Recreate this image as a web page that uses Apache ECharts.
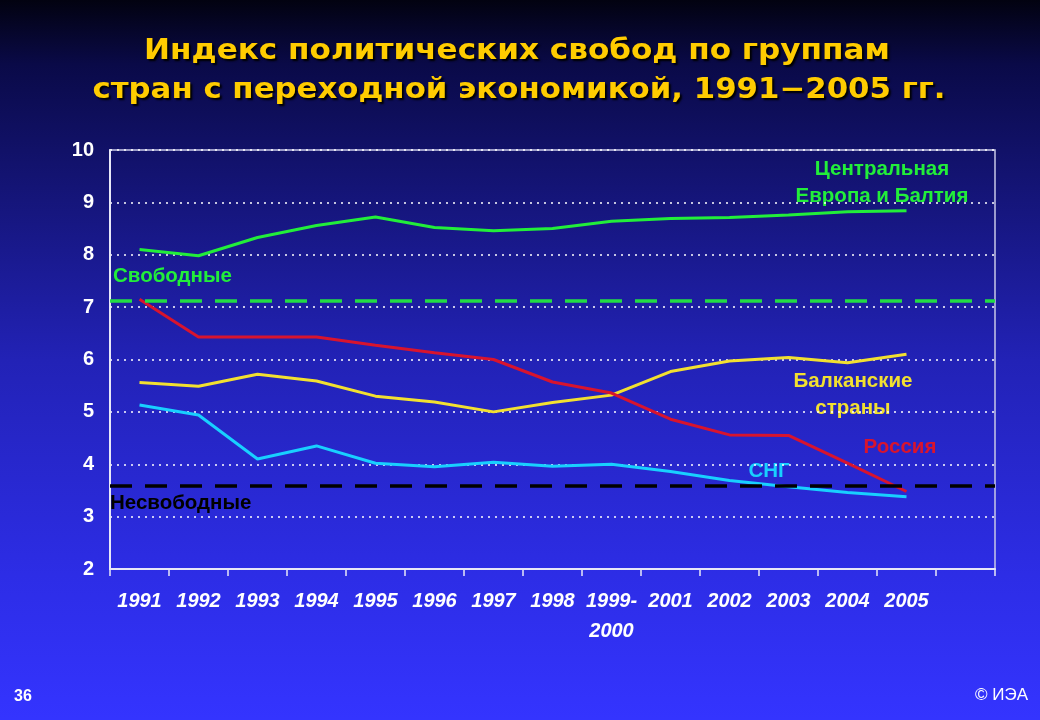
<!DOCTYPE html>
<html>
<head>
<meta charset="utf-8">
<script src="https://cdn.jsdelivr.net/npm/echarts@6/dist/echarts.min.js"></script>
<style>html,body{margin:0;padding:0;background:#000;}#c{width:1040px;height:720px;}</style>
</head>
<body>
<div id="c"></div>
<script>
const categories = ['1991','1992','1993','1994','1995','1996','1997','1998','1999-\n2000','2001','2002','2003','2004','2005',''];
const centralEurope = [8.10,7.98,8.33,8.56,8.72,8.52,8.46,8.50,8.64,8.69,8.71,8.76,8.82,8.84];
const russia = [7.15,6.43,6.43,6.43,6.27,6.13,6.00,5.57,5.36,4.86,4.56,4.55,4.02,3.48];
const balkans = [5.56,5.49,5.72,5.59,5.30,5.19,5.00,5.18,5.32,5.77,5.97,6.04,5.94,6.10];
const cis = [5.13,4.94,4.10,4.35,4.02,3.95,4.04,3.96,4.00,3.86,3.69,3.57,3.46,3.38];
const freeLevel = 7.13;
const notFreeLevel = 3.58;
const yTicks = [2,3,4,5,6,7,8,9,10];
const titleLines = ['Индекс политических свобод по группам', 'стран с переходной экономикой, 1991−2005 гг.'];

const chart = echarts.init(document.getElementById('c'));
const lineStyle = (c) => ({color: c, width: 3});
const labelFont = 'Liberation Sans, Arial, sans-serif';
const titleStyle = (t) => ({text:t, fill:'#ffcc00', font:'bold 28px DejaVu Sans, sans-serif', textAlign:'center', textVerticalAlign:'middle',
  textShadowColor:'#000', textShadowBlur:2, textShadowOffsetX:2, textShadowOffsetY:2});
chart.setOption({
  animation: false,
  backgroundColor: {type:'linear', x:0, y:0, x2:0, y2:1, colorStops:[
    {offset:0, color:'#020210'},
    {offset:0.09, color:'#0a0a48'},
    {offset:0.5, color:'#2222b6'},
    {offset:0.8, color:'#2d2de6'},
    {offset:1, color:'#3434ff'}
  ]},
  grid: {left:110, right:45, top:150, bottom:151, show:true, borderColor:'#c8c8e8', borderWidth:1.5},
  xAxis: {
    type:'category', data: categories, boundaryGap: true,
    axisLine: {lineStyle:{color:'#e8e8f8', width:2}},
    axisTick: {show:true, interval:0, length:7, inside:false, lineStyle:{color:'#e8e8f8', width:1.5}},
    axisLabel: {interval:0, color:'#ffffff', fontSize:20, fontWeight:'bold', fontStyle:'italic',
      fontFamily:labelFont, margin:17, lineHeight:30},
    splitLine: {show:false}
  },
  yAxis: {
    type:'value', min:2, max:10, interval:1,
    axisLine: {show:true, lineStyle:{color:'#e8e8f8', width:2}},
    axisTick: {show:true, length:0},
    axisLabel: {color:'#ffffff', fontSize:20, fontWeight:'bold', fontFamily:labelFont, margin:16,
      formatter: (v) => yTicks.includes(v) ? String(v) : ''},
    splitLine: {show:true, lineStyle:{color:'#ffffff', type:[2,5], width:1.5}}
  },
  series: [
    {name:'Центральная Европа и Балтия', type:'line', data:centralEurope, symbol:'none', lineStyle:lineStyle('#22ee3a'),
      markLine:{silent:true, symbol:'none', label:{show:false}, lineStyle:{color:'#22dd44', type:[22,13], width:3.5},
        data:[{yAxis:freeLevel}]}},
    {name:'Балканские страны', type:'line', data:balkans, symbol:'none', lineStyle:lineStyle('#f2e030')},
    {name:'СНГ', type:'line', data:cis, symbol:'none', lineStyle:lineStyle('#18d0ff')},
    {name:'Россия', type:'line', data:russia, symbol:'none', lineStyle:lineStyle('#d8142e'),
      markLine:{silent:true, symbol:'none', label:{show:false}, lineStyle:{color:'#000000', type:[22,13], width:3.5},
        data:[{yAxis:notFreeLevel}]}}
  ],
  graphic: [
    {type:'text', x:517, y:52, scaleX:1.11, style:titleStyle(titleLines[0])},
    {type:'text', x:519, y:91, scaleX:1.10, style:titleStyle(titleLines[1])},
    {type:'text', x:113, y:276, style:{text:'Свободные', fill:'#22ee3a', font:'bold 20.5px '+labelFont, textVerticalAlign:'middle'}},
    {type:'text', x:110, y:503, style:{text:'Несвободные', fill:'#000000', font:'bold 20.5px '+labelFont, textVerticalAlign:'middle'}},
    {type:'text', x:882, y:169, style:{text:'Центральная', fill:'#22ee3a', font:'bold 20.5px '+labelFont, textAlign:'center', textVerticalAlign:'middle'}},
    {type:'text', x:882, y:196, style:{text:'Европа и Балтия', fill:'#22ee3a', font:'bold 20.5px '+labelFont, textAlign:'center', textVerticalAlign:'middle'}},
    {type:'text', x:853, y:381, style:{text:'Балканские', fill:'#f2e030', font:'bold 20.5px '+labelFont, textAlign:'center', textVerticalAlign:'middle'}},
    {type:'text', x:853, y:408, style:{text:'страны', fill:'#f2e030', font:'bold 20.5px '+labelFont, textAlign:'center', textVerticalAlign:'middle'}},
    {type:'text', x:900, y:447, style:{text:'Россия', fill:'#d8142e', font:'bold 20.5px '+labelFont, textAlign:'center', textVerticalAlign:'middle'}},
    {type:'text', x:769, y:471, style:{text:'СНГ', fill:'#18d0ff', font:'bold 20.5px '+labelFont, textAlign:'center', textVerticalAlign:'middle'}},
    {type:'text', x:14, y:697, style:{text:'36', fill:'#ffffff', font:'bold 16px '+labelFont, textVerticalAlign:'middle'}},
    {type:'text', x:1028, y:695, style:{text:'© ИЭА', fill:'#ffffff', font:'17px '+labelFont, textAlign:'right', textVerticalAlign:'middle'}}
  ]
});
</script>
</body>
</html>
